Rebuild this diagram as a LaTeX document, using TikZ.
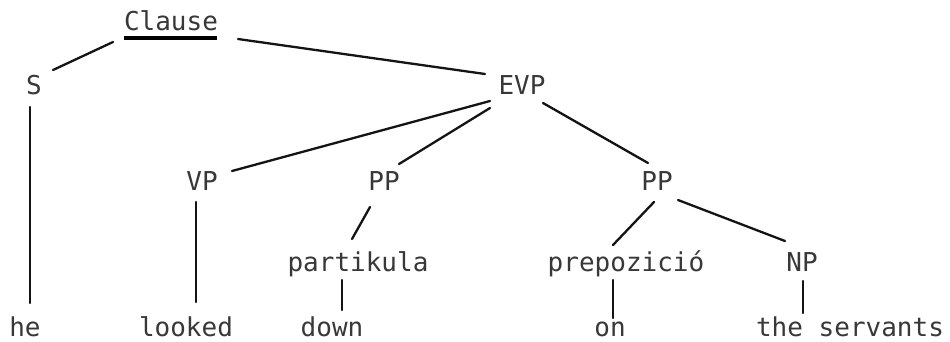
\documentclass[tikz,border=0pt]{standalone}
\usepackage{fontspec}
\setmonofont{DejaVu Sans Mono}
\usetikzlibrary{calc}
\begin{document}
\begin{tikzpicture}[x=1pt,y=-1pt,
  lbl/.style={font=\ttfamily\fontsize{26}{26}\selectfont, text=black!78,
    inner sep=0pt, anchor=base, text height=19pt, text depth=0pt},
  branch/.style={line width=2.3pt, line cap=round, black!92}]
  % canvas
  \fill[white] (0,0) rectangle (950,341);
  \useasboundingbox (0,0) rectangle (950,341);

  % labels (placed on their baselines)
  \node[lbl] (clause) at (171,30)  {Clause};
  \node[lbl] (s)      at (34,94)   {S};
  \node[lbl] (evp)    at (522,94)  {EVP};
  \node[lbl] (vp)     at (202,190) {VP};
  \node[lbl] (ppa)    at (384,190) {PP};
  \node[lbl] (ppb)    at (657,190) {PP};
  \node[lbl] (part)   at (358,271) {partikula};
  \node[lbl] (prep)   at (626,271) {prepozició};
  \node[lbl] (np)     at (802,271) {NP};
  \node[lbl] (he)     at (25,336)  {he};
  \node[lbl] (looked) at (186,336) {looked};
  \node[lbl] (down)   at (332,336) {down};
  \node[lbl] (on)     at (610,336) {on};
  \node[lbl] (serv)   at (850,336) {the servants};

  % underline of the root label
  \draw[line width=3.2pt] ($(clause)+(-47,17.5)$) -- ($(clause)+(46,17.5)$);

  % branches
  \draw[branch] ($(clause)+(-58,21.5)$) -- ($(s)+(19,-14.5)$);
  \draw[branch] ($(clause)+(67,18.5)$)  -- ($(evp)+(-37,-10.5)$);
  \draw[branch] ($(s)+(-4,22.5)$)       -- ($(he)+(5,-23.5)$);
  \draw[branch] ($(evp)+(-32,16.5)$)    -- ($(vp)+(30,-9.5)$);
  \draw[branch] ($(evp)+(-32,23.5)$)    -- ($(ppa)+(15,-16.5)$);
  \draw[branch] ($(evp)+(21,18.5)$)     -- ($(ppb)+(-9,-17.5)$);
  \draw[branch] ($(vp)+(-6,21.5)$)      -- ($(looked)+(10,-24.5)$);
  \draw[branch] ($(ppa)+(-14,26.5)$)    -- ($(part)+(-6,-22.5)$);
  \draw[branch] ($(part)+(-16,18.5)$)   -- ($(down)+(10,-16.5)$);
  \draw[branch] ($(ppb)+(-3,21.5)$)     -- ($(prep)+(-13,-16.5)$);
  \draw[branch] ($(ppb)+(21,19.5)$)     -- ($(np)+(-17,-20.5)$);
  \draw[branch] ($(prep)+(-13,18.5)$)   -- ($(on)+(3,-8.5)$);
  \draw[branch] ($(np)+(1,19.5)$)       -- ($(serv)+(-47,-13.5)$);
\end{tikzpicture}
\end{document}
